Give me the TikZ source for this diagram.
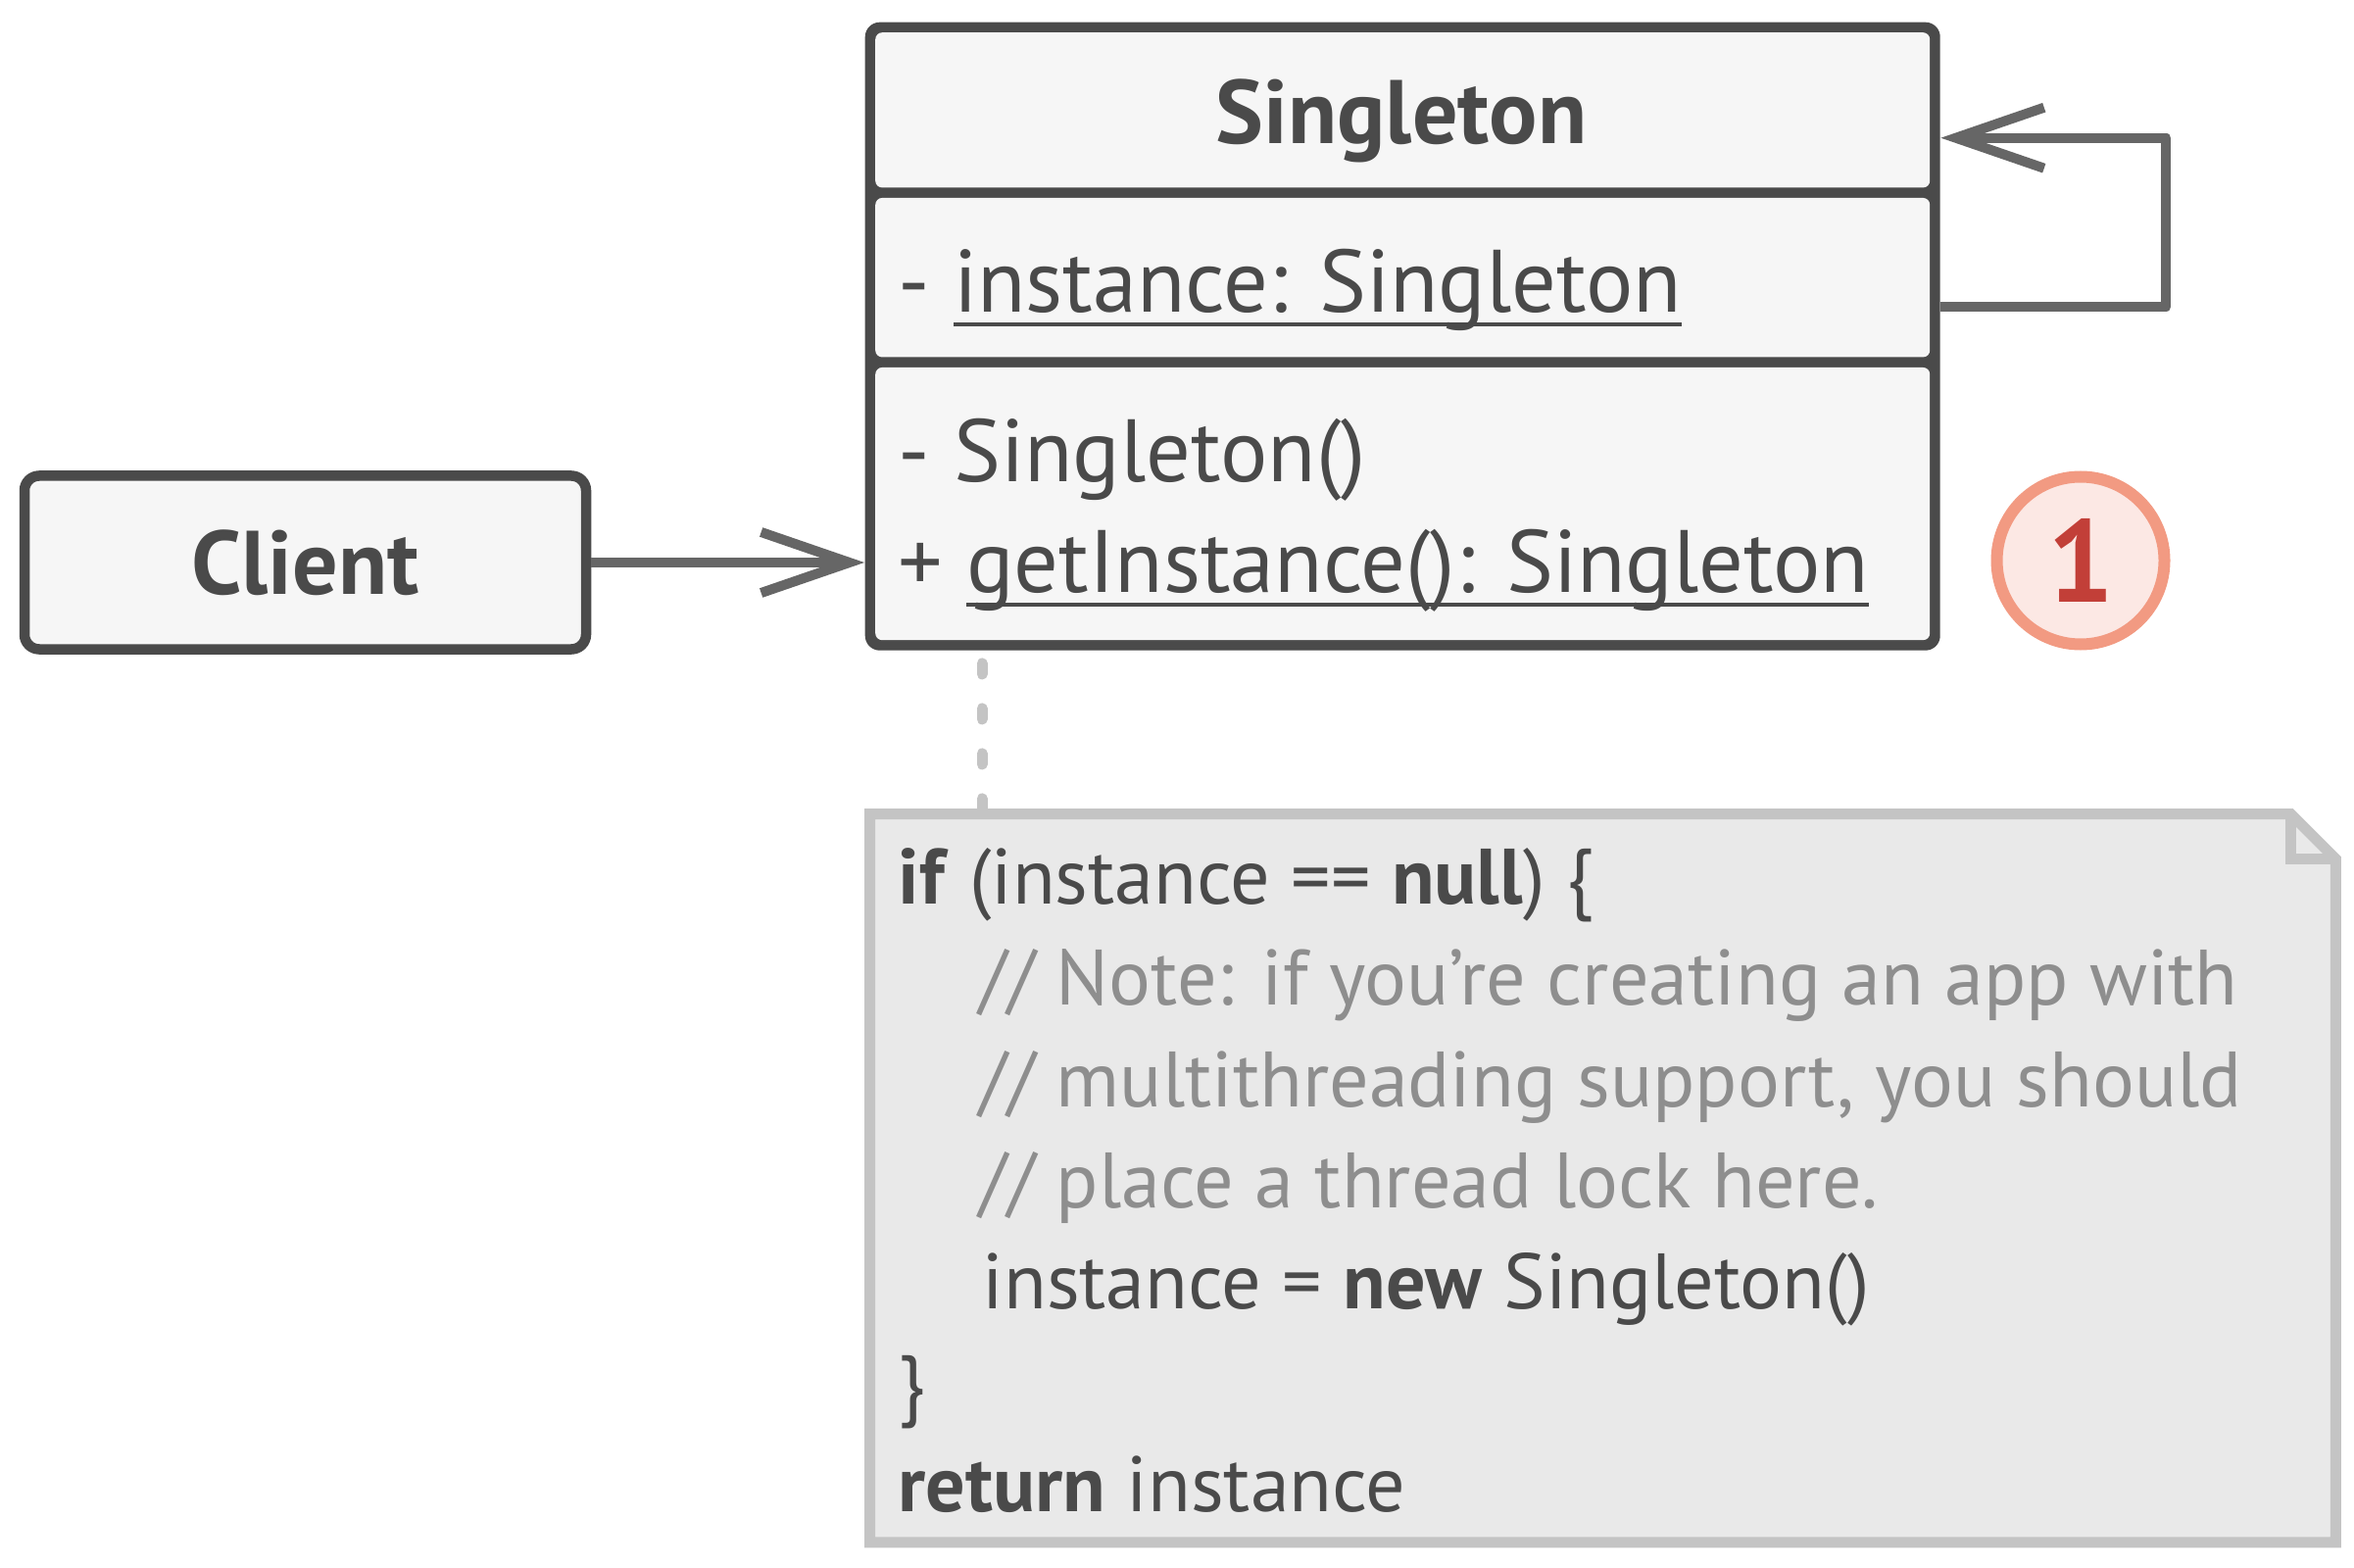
\documentclass[tikz,border=0pt]{standalone}
\usepackage{fontspec}
\setmainfont{PT Sans}
\usetikzlibrary{arrows.meta,positioning,calc}
\definecolor{sgdark}{HTML}{4A4A4A}
\definecolor{sgfill}{HTML}{F6F6F6}
\definecolor{sgarrowc}{HTML}{666666}
\definecolor{sgnotefill}{HTML}{E9E9E9}
\definecolor{sgnoteline}{HTML}{C4C4C4}
\definecolor{sgcomment}{HTML}{8E8E8E}
\definecolor{sgbadgefill}{HTML}{FCE8E4}
\definecolor{sgbadgeline}{HTML}{F29A82}
\definecolor{sgbadgetext}{HTML}{C23F38}
\newcommand{\sgbig}{\fontsize{25.7}{30}\selectfont}
\newcommand{\sghead}{\fontsize{26.2}{31}\selectfont\bfseries}
\newcommand{\sgsmall}{\fontsize{22.8}{28}\selectfont}
\newcommand{\sgul}[1]{\setbox0\hbox{#1}\rlap{\rule[-0.16em]{\wd0}{0.05em}}\box0}
\tikzset{
  sgframe/.style={fill=sgdark, rounded corners=0.15cm, inner sep=0pt, minimum width=10.97cm, minimum height=6.41cm},
  sgpanel/.style={fill=sgfill, rounded corners=0.07cm, inner sep=0pt, minimum width=10.76cm, anchor=north west},
  sgbox/.style={draw=sgdark, fill=sgfill, line width=0.105cm, rounded corners=0.15cm, inner sep=0pt, font=\sghead, text=sgdark},
  sgtext/.style={anchor=base west, inner sep=0pt, font=\sgbig, text=sgdark},
  sgcode/.style={anchor=base west, inner sep=0pt, font=\sgsmall, text=sgdark},
  sgcomm/.style={sgcode, text=sgcomment},
  sgarrow/.style={draw=sgarrowc, line width=0.1cm, line join=round, -{Straight Barb[length=0.9cm, width=0.62cm]}},
  sgdash/.style={draw=sgnoteline, line width=0.11cm, dash pattern=on 0.11cm off 0.35cm, line cap=round},
  sgnote/.style={draw=sgnoteline, fill=sgnotefill, line width=0.11cm},
  sgbadge/.style={circle, draw=sgbadgeline, fill=sgbadgefill, line width=0.12cm, minimum size=1.71cm, inner sep=0pt, font=\fontsize{34}{40}\selectfont\bfseries, text=sgbadgetext},
}
\begin{document}
\begin{tikzpicture}
  \path[fill=white] (0,0) rectangle (24.02,-16);
  \node[sgframe, anchor=north west] (singleton) at (8.82,-0.22) {};
  \node[sgpanel, minimum height=1.5825cm] (header) at (8.925,-0.325) {};
  \node[sgpanel, minimum height=1.625cm] (attrs) at (8.925,-2.0125) {};
  \node[sgpanel, minimum height=2.7825cm] (methods) at (8.925,-3.7425) {};
  \node[sgtext, font=\sghead, anchor=base] (title) at (14.30,-1.47) {Singleton};
  \node[sgtext] (attr) at (9.16,-3.19) {- \sgul{instance: Singleton}};
  \node[sgtext] (ctor) at (9.16,-4.92) {- Singleton()};
  \node[sgtext] (getter) at (9.16,-6.05) {+ \sgul{getInstance(): Singleton}};

  \node[sgbox, minimum width=5.73cm, minimum height=1.77cm] (client) at (3.115,-5.74) {Client};
  \node[sgbadge] (step1) at (21.23,-5.72) {1};

  \draw[sgarrow] (client.east) -- (client.east -| singleton.west);
  \draw[sgarrow] ($(singleton.east |- attrs.east)+(0,-0.295)$) -- ++(2.30,0) |- ($(singleton.east |- header.east)+(0,-0.284)$);

  \node[inner sep=0pt, minimum width=14.945cm, minimum height=7.42cm, anchor=north west] (note) at (8.875,-8.305) {};
  \draw[sgnote] (note.north west) -- ($(note.north east)+(-0.46,0)$) -- ($(note.north east)+(0,-0.46)$) -- (note.south east) -- (note.south west) -- cycle;
  \draw[sgnote, fill=none] ($(note.north east)+(-0.46,0)$) |- ($(note.north east)+(0,-0.46)$);
  \draw[sgdash] ($(singleton.south west)+(1.20,-0.125)$) -- ($(note.north west)+(1.145,0)$);

  \node[sgcode] (line1) at (9.16,-9.22) {\textbf{if} (instance == \textbf{null}) \{};
  \node[sgcomm] (line2) at (9.99,-10.255) {// Note: if you’re creating an app with};
  \node[sgcomm] (line3) at (9.99,-11.29) {// multithreading support, you should};
  \node[sgcomm] (line4) at (9.99,-12.32) {// place a thread lock here.};
  \node[sgcode] (line5) at (10.02,-13.355) {instance = \textbf{new} Singleton()};
  \node[sgcode] (line6) at (9.16,-14.39) {\}};
  \node[sgcode] (line7) at (9.16,-15.42) {\textbf{return} instance};
\end{tikzpicture}
\end{document}
